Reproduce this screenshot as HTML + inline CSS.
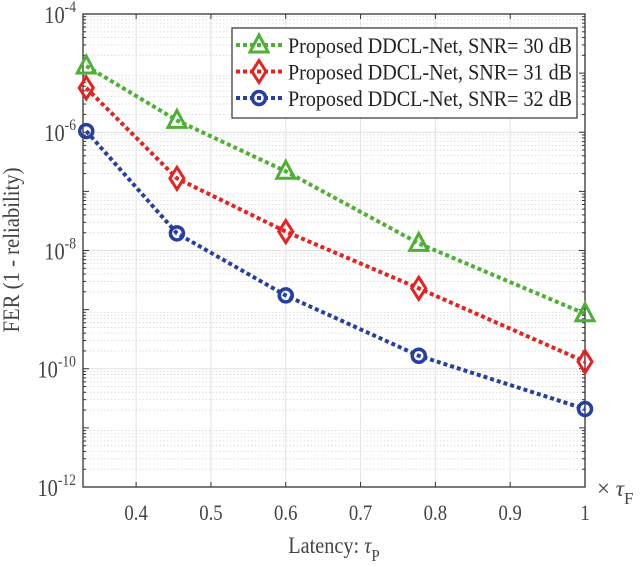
<!DOCTYPE html>
<html><head><meta charset="utf-8"><style>
body{margin:0;background:#fff}
svg{display:block;font-family:"Liberation Serif",serif}
</style></head><body>
<svg id="chart" width="640" height="566" viewBox="0 0 640 566" xmlns="http://www.w3.org/2000/svg"></svg>
<script>
const xValues = [1/3, 5/11, 0.6, 7/9, 1];
const seriesNames = ["Proposed DDCL-Net, SNR= 30 dB","Proposed DDCL-Net, SNR= 31 dB","Proposed DDCL-Net, SNR= 32 dB"];
const snr30 = [-4.88, -5.80, -6.66, -7.88, -9.07];
const snr31 = [-5.25, -6.78, -7.68, -8.64, -9.88];
const snr32 = [-5.98, -7.71, -8.76, -9.78, -10.68];
const xTicks = [0.4,0.5,0.6,0.7,0.8,0.9,1];
const xTickLabels = ["0.4","0.5","0.6","0.7","0.8","0.9","1"];
const yTicks = [-12,-10,-8,-6,-4];

const L=83,R=585,T=14,B=487, XMIN=0.329,XMAX=1,YMIN=-12,YMAX=-4;
const sx=v=>L+(v-XMIN)/(XMAX-XMIN)*(R-L);
const sy=v=>B-(v-YMIN)/(YMAX-YMIN)*(B-T);
const svg=document.getElementById('chart');
const NS='http://www.w3.org/2000/svg';
function mk(tag,attrs,parent){const e=document.createElementNS(NS,tag);for(const k in attrs)e.setAttribute(k,attrs[k]);(parent||svg).appendChild(e);return e;}

const grid=mk('g',{});


for(let d=YMIN;d<YMAX;d++){for(let m=2;m<=9;m++){const y=sy(d+Math.log10(m));mk('line',{x1:L,x2:R,y1:y,y2:y,stroke:'#d8d8d8','stroke-width':0.8,'stroke-dasharray':'1.5 2'},grid);}}
yTicks.forEach(d=>{const y=sy(d);mk('line',{x1:L,x2:R,y1:y,y2:y,stroke:'#e2e2e2','stroke-width':1},grid);});
xTicks.forEach(v=>{const x=sx(v);mk('line',{x1:x,x2:x,y1:T,y2:B,stroke:'#e2e2e2','stroke-width':1},grid);});

const box=mk('rect',{x:L,y:T,width:R-L,height:B-T,fill:'none',stroke:'#333','stroke-width':1.3});


for(let d=YMIN;d<YMAX;d++){for(let m=1;m<=9;m++){const y=sy(d+Math.log10(m));const len=m==1?6:3;mk('line',{x1:L,x2:L+len,y1:y,y2:y,stroke:'#333'});mk('line',{x1:R,x2:R-len,y1:y,y2:y,stroke:'#333'});}}
xTicks.forEach(v=>{const x=sx(v);mk('line',{x1:x,x2:x,y1:B,y2:B-5,stroke:'#333'});mk('line',{x1:x,x2:x,y1:T,y2:T+5,stroke:'#333'});});

xTicks.forEach((v,i)=>{const t=mk('text',{x:sx(v),y:520,'text-anchor':'middle','font-size':22,fill:'#444',transform:`translate(${sx(v)},0) scale(0.85,1) translate(${-sx(v)},0)`});t.textContent=xTickLabels[i];

});
yTicks.forEach(d=>{const t=mk('text',{x:76,y:sy(d)+9,'text-anchor':'end','font-size':24,fill:'#444',transform:`translate(76,0) scale(0.85,1) translate(-76,0)`});


const a=document.createElementNS(NS,'tspan');a.textContent='10';t.appendChild(a);
const b=document.createElementNS(NS,'tspan');b.setAttribute('dy','-11');b.setAttribute('font-size','16');b.textContent=String(d);t.appendChild(b);});

const xu=mk('text',{x:597,y:496,'font-size':23,fill:'#444'});


xu.innerHTML='× <tspan font-style="italic">τ</tspan><tspan dy="8" font-size="17">F</tspan>';
const xt=mk('text',{x:334,y:553,'text-anchor':'middle','font-size':23,fill:'#444',transform:'translate(334,0) scale(0.88,1) translate(-334,0)'});


xt.innerHTML='Latency: <tspan font-style="italic">τ</tspan><tspan dy="8" font-size="17">P</tspan>';
const yt=mk('text',{x:0,y:0,'text-anchor':'middle','font-size':23,fill:'#444',transform:'translate(19,250) rotate(-90) scale(0.9,1)'});


yt.textContent='FER (1 - reliability)';

const colors=['#4cb032','#e8211e','#2540a2'];
const series=[snr30,snr31,snr32];
function marker(type,x,y,c,parent){
 if(type==0) return mk('polygon',{points:`${x},${y-10} ${x-9},${y+7} ${x+9},${y+7}`,fill:'none',stroke:c,'stroke-width':3},parent);
 if(type==1) return mk('polygon',{points:`${x},${y-11} ${x+7},${y} ${x},${y+11} ${x-7},${y}`,fill:'none',stroke:c,'stroke-width':3},parent);
 return mk('circle',{cx:x,cy:y,r:6.5,fill:'none',stroke:c,'stroke-width':3.5},parent);
}
series.forEach((vals,si)=>{
 const g=mk('g',{});
 
 
 const pts=vals.map((v,i)=>sx(xValues[i])+','+sy(v)).join(' ');
 mk('polyline',{points:pts,fill:'none',stroke:colors[si],'stroke-width':4,'stroke-dasharray':'4 3'},g);
 vals.forEach((v,i)=>{const m=marker(si,sx(xValues[i]),sy(v),colors[si],g);
 
 });
});

const lg=mk('g',{});


mk('rect',{x:232,y:28,width:345,height:90,fill:'#fff',stroke:'#333','stroke-width':1.2},lg);
seriesNames.forEach((n,i)=>{
 const y=45+i*26.5;
 const e=mk('g',{},lg);
 
 
 mk('line',{x1:236,x2:282,y1:y,y2:y,stroke:colors[i],'stroke-width':4,'stroke-dasharray':'4 3'},e);
 marker(i,259,y,colors[i],e);
 const t=mk('text',{x:288,y:y+8,'font-size':22,fill:'#222',textLength:284,lengthAdjust:'spacingAndGlyphs'},e);t.textContent=n;
});
</script>
</body></html>
